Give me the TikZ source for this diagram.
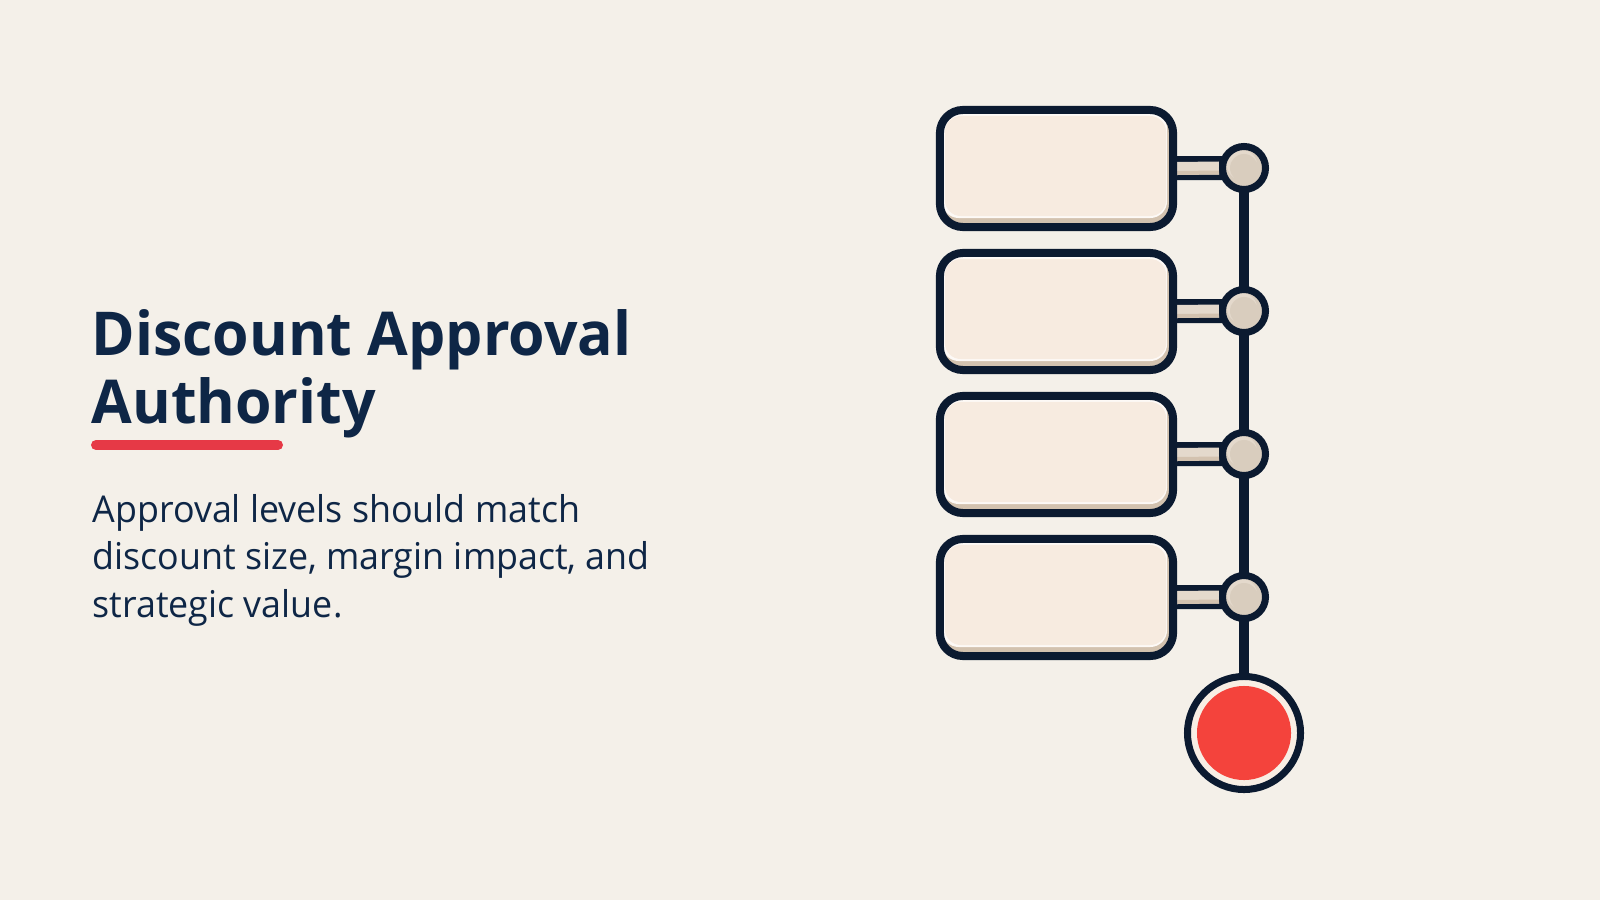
\documentclass[tikz,border=0pt]{standalone}
\usepackage{fontspec}
\setmainfont{Open Sans}[FakeStretch=0.97]
\newfontfamily\titlefont{Open Sans}[FakeStretch=0.975]
\definecolor{bgc}{HTML}{F4F0E9}
\definecolor{navy}{HTML}{0E2646}
\definecolor{dark}{HTML}{0B1A30}
\definecolor{cream}{HTML}{F7EBE0}
\definecolor{tanc}{HTML}{D3C2AF}
\definecolor{knob}{HTML}{D9CDBE}
\definecolor{knobhi}{HTML}{E4D9CC}
\definecolor{redc}{HTML}{F4433C}
\definecolor{linered}{HTML}{E63946}
\definecolor{ring}{HTML}{F8EEE4}
\pgfdeclarelayer{back}
\pgfdeclarelayer{bg}
\pgfsetlayers{back,bg,main}
\tikzset{
  stepbox/.style={draw=dark, line width=0.08cm, fill=tanc, rounded corners=0.23cm,
    minimum width=2.33cm, minimum height=1.17cm, inner sep=0pt,
    path picture={
      \fill[white!70!cream, rounded corners=0.17cm]
        ([xshift=0.02cm,yshift=-0.02cm]path picture bounding box.north west) rectangle
        ([xshift=-0.06cm,yshift=0.09cm]path picture bounding box.south east);
      \fill[cream, rounded corners=0.16cm]
        ([xshift=0.05cm,yshift=-0.06cm]path picture bounding box.north west) rectangle
        ([xshift=-0.07cm,yshift=0.11cm]path picture bounding box.south east);
    }},
  knobnode/.style={circle, draw=dark, line width=0.07cm, fill=knob, minimum size=0.43cm, inner sep=0pt,
    path picture={
      \fill[knobhi] ([xshift=-0.02cm,yshift=0.03cm]path picture bounding box.center) circle (0.15cm);
      \fill[knob] ([xshift=0.0cm,yshift=0.0cm]path picture bounding box.center) circle (0.14cm);
    }},
  endnode/.style={circle, draw=dark, line width=0.07cm, fill=ring, minimum size=1.13cm, inner sep=0pt,
    path picture={
      \fill[redc] (path picture bounding box.center) circle (0.47cm);
    }},
  barout/.style={draw=dark, line width=0.24cm},
  barin/.style={draw=knobhi, line width=0.13cm},
  spine/.style={draw=dark, line width=0.1cm},
  title/.style={anchor=base west, inner sep=0pt, text=navy, font=\titlefont\bfseries\fontsize{17.2pt}{19pt}\selectfont},
  body/.style={anchor=base west, inner sep=0pt, text=navy, font=\fontsize{10.5pt}{13pt}\selectfont},
}
\begin{document}
\begin{tikzpicture}[x=0.01cm,y=-0.01cm]
\begin{pgfonlayer}{back}
\fill[bgc] (0,0) rectangle (1600,900);
\end{pgfonlayer}
\useasboundingbox (0,0) rectangle (1600,900);

% text
\node[title] (t1) at (91,355) {Discount Approval};
\node[title] (t2) at (91,423) {Authority};
\coordinate (u1) at (96,445);
\coordinate (u2) at (278,445);
\draw[linered, line width=0.1cm, line cap=round] (u1) -- (u2);
\node[body] (p1) at (92,522) {Approval levels should match};
\node[body] (p2) at (92,569) {discount size, margin impact, and};
\node[body] (p3) at (92,617) {strategic value.};

% boxes
\node[stepbox] (b1) at (1056.5,168.5) {};
\node[stepbox] (b2) at (1056.5,311.5) {};
\node[stepbox] (b3) at (1056.5,454.5) {};
\node[stepbox] (b4) at (1056.5,597.5) {};
% knobs
\node[knobnode] (k1) at (1244,168) {};
\node[knobnode] (k2) at (1244,311) {};
\node[knobnode] (k3) at (1244,454) {};
\node[knobnode] (k4) at (1244,597) {};
% end
\node[endnode] (e) at (1244,733) {};

\begin{pgfonlayer}{bg}
\draw[spine] (k1.center) -- (e.center);
\foreach \i in {1,2,3,4}{
  \draw[barout] (b\i.center) -- (k\i.center);
  \draw[barin] (b\i.east) -- (k\i.west);
  \draw[tanc, line width=0.04cm] ([yshift=-0.045cm]b\i.east) -- ([yshift=-0.045cm]k\i.west);
}
\end{pgfonlayer}
\end{tikzpicture}
\end{document}
